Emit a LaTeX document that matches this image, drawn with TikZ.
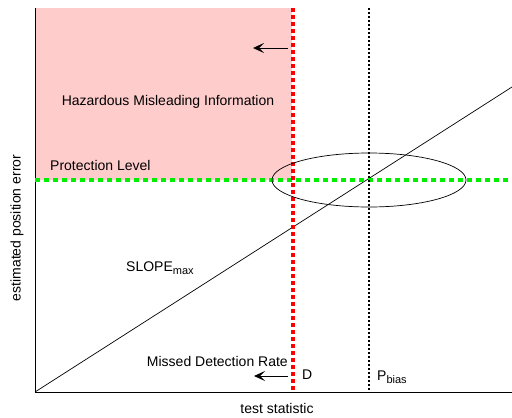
\documentclass[tikz,border=0pt]{standalone}
\usepackage{fontspec}
\setmainfont{Liberation Sans}
\usetikzlibrary{arrows.meta}
\definecolor{hmipink}{RGB}{255,204,204}
\definecolor{plgreen}{RGB}{0,238,0}
\newcommand{\lowsub}[1]{\raisebox{-0.45ex}{\fontsize{11}{13}\selectfont #1}}
\tikzset{
  lbl/.style={inner sep=0pt, font=\fontsize{14}{16}\selectfont},
  reddots/.style={red, line width=4pt, dash pattern=on 4pt off 3pt},
  greendots/.style={plgreen, line width=4pt, dash pattern=on 5pt off 4pt},
  blackdots/.style={black, line width=1.8pt, dash pattern=on 2pt off 2pt},
  leftarrow/.style={-{Stealth[length=11pt,width=10pt,inset=5pt]}, line width=1pt}
}
\begin{document}
\begin{tikzpicture}[x=1pt, y=-1pt]
\useasboundingbox (0,0) rectangle (512,418);
%\draw[very thin,gray] (0,0) grid[step=50] (512,418);
\coordinate (O) at (35,392);
\coordinate (ytop) at (35,8);
\coordinate (xend) at (512,392);

\fill[hmipink] (35,8) rectangle (292,180);

\draw[line width=0.8pt] (ytop) -- (O) -- (xend);
\draw[line width=0.7pt] (O) -- (512,87) coordinate (slopeend);

% protection level and detection threshold
\coordinate (plL) at (35,180);
\coordinate (plR) at (512,180);
\draw[greendots] (plL) -- (plR);
\coordinate (dtop) at (293,8);
\coordinate (dbot) at (293,392);
\draw[reddots] (dtop) -- (dbot);
\coordinate (ptop) at (369,8);
\coordinate (pbot) at (369,392);
\draw[blackdots] (ptop) -- (pbot);

\draw[line width=0.7pt] (369,180) ellipse [x radius=97, y radius=27];

\coordinate (a1s) at (288,48);
\coordinate (a1e) at (253,48);
\draw[leftarrow] (a1s) -- (a1e);
\coordinate (a2s) at (288,376);
\coordinate (a2e) at (254,376);
\draw[leftarrow] (a2s) -- (a2e);

\node[lbl] (hmi) at (168,102) {Hazardous Misleading Information};
\node[lbl, anchor=west] (pl) at (50,165) {Protection Level};
\node[lbl, anchor=west] (slope) at (126,268) {SLOPE\lowsub{max}};
\node[lbl, anchor=east] (mdr) at (288,361) {Missed Detection Rate};
\node[lbl, anchor=west] (dlab) at (302,375) {D};
\node[lbl, anchor=west] (pbias) at (377,377) {P\lowsub{bias}};
\node[lbl] (xlab) at (277,408) {test statistic};
\node[lbl, rotate=90] (ylab) at (17,228) {estimated position error};

\end{tikzpicture}
\end{document}
